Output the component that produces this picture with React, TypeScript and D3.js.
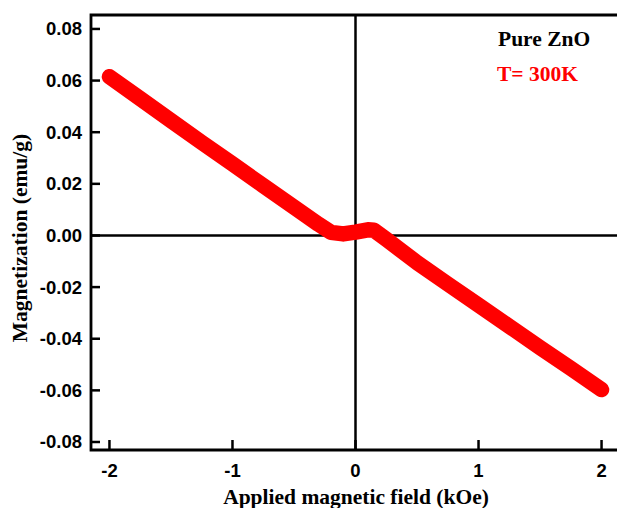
import React from "react";
import * as d3 from "d3";

const fieldKOe = [-2, -1.75, -1.5, -1.25, -1, -0.75, -0.5, -0.3, -0.2, -0.1, 0, 0.1, 0.15, 0.25, 0.5, 0.75, 1, 1.25, 1.5, 1.75, 2];
const magnetization = [0.0615, 0.053, 0.0445, 0.036, 0.0277, 0.0193, 0.011, 0.0043, 0.0012, 0.0006, 0.0013, 0.0022, 0.002, -0.0015, -0.0105, -0.0188, -0.027, -0.0352, -0.0434, -0.0515, -0.0597];
const xTicks = [-2, -1, 0, 1, 2];
const yTicks = [0.08, 0.06, 0.04, 0.02, 0, -0.02, -0.04, -0.06, -0.08];
const legendTitle = "Pure ZnO";
const legendTemp = "T= 300K";
const xTitle = "Applied magnetic field (kOe)";
const yTitle = "Magnetization (emu/g)";

const W = 617, H = 508;
const L = 91, R = 620, T = 15, B = 450;

export default function App() {
  const x = d3.scaleLinear().domain([-2.15, 2.15]).range([L, R]);
  const y = d3.scaleLinear().domain([-0.0831, 0.0854]).range([B, T]);
  const pts = fieldKOe.map((h, i) => [h, magnetization[i]] as [number, number]);
  const line = d3.line<[number, number]>().x(d => x(d[0])).y(d => y(d[1])).curve(d3.curveLinear);
  const sans = "'Liberation Sans', Arial, sans-serif";
  const serif = "'Liberation Serif', 'Times New Roman', serif";
  return (
    <svg width={W} height={H} style={{ position: "absolute", left: 0, top: 0, background: "#fff" }}>
      <rect x={0} y={0} width={W} height={H} fill="#fff" />
      {/* crosshair */}
      <line x1={x(0)} x2={x(0)} y1={T} y2={B} stroke="#000" strokeWidth={2.5} />
      <line x1={L} x2={R} y1={y(0)} y2={y(0)} stroke="#000" strokeWidth={2.5} />
      {/* data band */}
      <path d={line(pts) ?? ""} fill="none" stroke="#ff0000" strokeWidth={15.5} strokeLinejoin="round" strokeLinecap="round" />
      {/* frame */}
      <path d={`M${R},${T}H${L}V${B}H${R}`} fill="none" stroke="#000" strokeWidth={2.8} />
      {/* y ticks */}
      {yTicks.map(t => (
        <g key={"y" + t}>
          <line x1={L} x2={L + 9} y1={y(t)} y2={y(t)} stroke="#000" strokeWidth={2.5} />
          <text x={L - 9} y={y(t)} dy="0.35em" textAnchor="end" fontFamily={sans} fontWeight="bold" fontSize={18.5} fill="#000">
            {t.toFixed(2)}
          </text>
        </g>
      ))}
      {/* x ticks */}
      {xTicks.map(t => (
        <g key={"x" + t}>
          <line x1={x(t)} x2={x(t)} y1={B} y2={B - 10} stroke="#000" strokeWidth={2.5} />
          <text x={x(t)} y={477} textAnchor="middle" fontFamily={sans} fontWeight="bold" fontSize={18.5} fill="#000">
            {t}
          </text>
        </g>
      ))}
      {/* titles */}
      <text x={356} y={504} textAnchor="middle" fontFamily={serif} fontWeight="bold" fontSize={21.5} fill="#000">{xTitle}</text>
      <text transform={`translate(27,238) rotate(-90)`} textAnchor="middle" fontFamily={serif} fontWeight="bold" fontSize={21.5} fill="#000">{yTitle}</text>
      {/* legend */}
      <text x={498} y={46} fontFamily={serif} fontWeight="bold" fontSize={21.5} fill="#000">{legendTitle}</text>
      <text x={497} y={81} fontFamily={serif} fontWeight="bold" fontSize={21.5} fill="#ff0000">{legendTemp}</text>
    </svg>
  );
}
